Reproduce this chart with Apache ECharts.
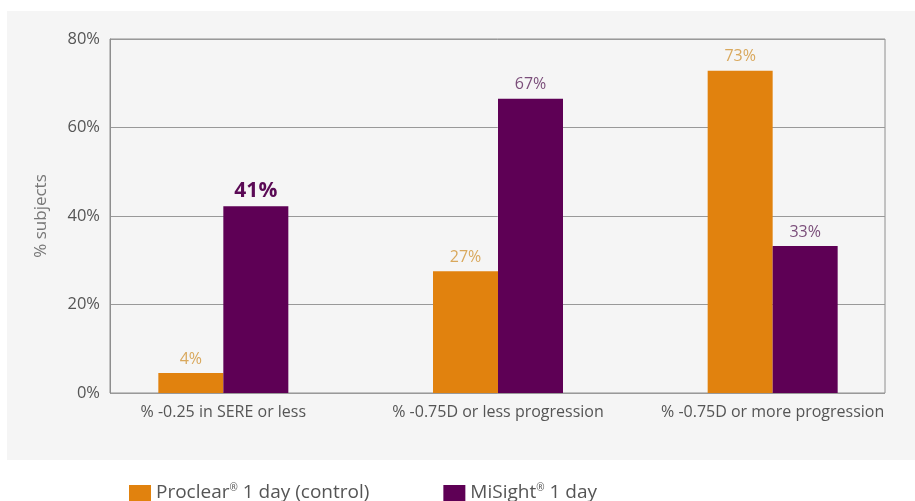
<!DOCTYPE html>
<html>
<head>
<meta charset="utf-8">
<script src="https://cdn.jsdelivr.net/npm/echarts@6/dist/echarts.min.js"></script>
<style>
html,body{margin:0;padding:0;background:#fff;}
#c{width:915px;height:501px;}
</style>
</head>
<body>
<div id="c"></div>
<script>
var categories = ['% -0.25 in SERE or less', '% -0.75D or less progression', '% -0.75D or more progression'];
var proclearValues = [4.5, 27.5, 72.8];
var misightValues = [42.2, 66.5, 33.2];
var proclearLabels = ['4%', '27%', '73%'];
var misightLabels = ['41%', '67%', '33%'];
var highlightIndex = 0; // MiSight label shown bold
var yTicks = [0, 20, 40, 60, 80];
var seriesNames = ['Proclear® 1 day (control)', 'MiSight® 1 day'];

var FONT = '"Open Sans", "Noto Sans", sans-serif';
var ORANGE = '#E1820E', PURPLE = '#5E0055';

var chart = echarts.init(document.getElementById('c'), null, {renderer: 'canvas'});

var procData = proclearValues.map(function (v, i) {
  return {value: v, label: {formatter: proclearLabels[i]}};
});
var miData = misightValues.map(function (v, i) {
  var d = {value: v, label: {formatter: misightLabels[i]}};
  if (i === highlightIndex) {
    d.label.fontWeight = 'bold';
    d.label.fontSize = 21;
    d.label.color = '#5a0a55';
    d.label.distance = 5;
  }
  return d;
});

chart.setOption({
  backgroundColor: '#ffffff',
  animation: false,
  graphic: [{
    type: 'rect', z: -10, silent: true,
    shape: {x: 7, y: 11, width: 908, height: 449},
    style: {fill: '#f5f5f5'}
  }],
  legend: {
    left: 124, top: 478,
    itemWidth: 22, itemHeight: 16, itemGap: 74,
    icon: 'rect',
    data: seriesNames,
    formatter: function (n) { return n.replace('®', '{s|®}'); },
    textStyle: {
      fontFamily: FONT, fontSize: 19, color: '#555',
      rich: {s: {fontSize: 10, fontFamily: FONT, color: '#555', verticalAlign: 'top', padding: [0, 0, 10, 0]}}
    }
  },
  grid: [
    {left: 110, right: 30, top: 39, bottom: 108, show: true, borderColor: '#8e8e8e', borderWidth: 1, backgroundColor: 'transparent'},
    {left: 86, right: 5, top: 39, bottom: 108}
  ],
  xAxis: [
    {gridIndex: 0, type: 'category', data: categories, show: false},
    {gridIndex: 1, type: 'category', data: categories,
      axisLine: {show: false}, axisTick: {show: false},
      axisLabel: {fontFamily: FONT, fontSize: 16, color: '#555', margin: 11, interval: 0, hideOverlap: false}}
  ],
  yAxis: [
    {gridIndex: 0, type: 'value', min: yTicks[0], max: yTicks[yTicks.length - 1], interval: 20,
      name: '% subjects', nameLocation: 'middle', nameGap: 60, nameRotate: 90,
      nameTextStyle: {fontFamily: FONT, fontSize: 17, color: '#777'},
      axisLine: {show: true, lineStyle: {color: '#8e8e8e'}}, axisTick: {show: false},
      splitLine: {lineStyle: {color: '#999', width: 1}},
      axisLabel: {fontFamily: FONT, fontSize: 16.5, color: '#555', margin: 10,
        formatter: function (v) { return v + '%'; }}},
    {gridIndex: 1, type: 'value', min: yTicks[0], max: yTicks[yTicks.length - 1], show: false, splitLine: {show: false}}
  ],
  series: [
    {name: seriesNames[0], type: 'bar', xAxisIndex: 1, yAxisIndex: 1,
      data: procData, barWidth: 65, barGap: '0%',
      itemStyle: {color: ORANGE},
      label: {show: true, position: 'top', distance: 6, fontFamily: FONT, fontSize: 16, color: '#d9a85c'}},
    {name: seriesNames[1], type: 'bar', xAxisIndex: 1, yAxisIndex: 1,
      data: miData, barWidth: 65, barGap: '0%',
      itemStyle: {color: PURPLE},
      label: {show: true, position: 'top', distance: 6, fontFamily: FONT, fontSize: 16, color: '#7b4e7a'}}
  ]
});
</script>
</body>
</html>
